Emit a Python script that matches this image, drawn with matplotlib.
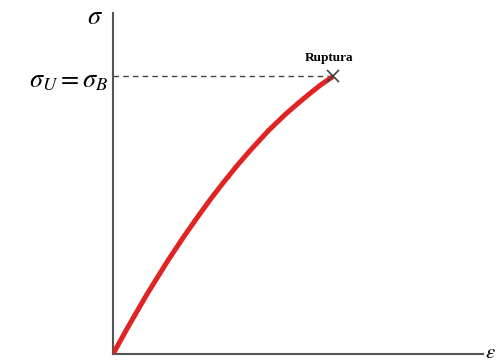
import matplotlib
matplotlib.use('Agg')
import matplotlib.pyplot as plt

plt.rcParams['mathtext.fontset'] = 'stix'

# Curva tensión-deformación (valores normalizados)
deformacion = [0.0, 0.04, 0.09, 0.146, 0.19, 0.23, 0.265, 0.297, 0.335, 0.37,
               0.42, 0.465, 0.50, 0.532, 0.56, 0.581, 0.595]
tension = [0.0, 0.078, 0.172, 0.270, 0.342, 0.404, 0.456, 0.501, 0.552, 0.596,
           0.655, 0.702, 0.735, 0.764, 0.788, 0.804, 0.814]

# Punto de ruptura
e_rup = deformacion[-1]
s_rup = tension[-1]

fig = plt.figure(figsize=(4.96, 3.63), dpi=100)
ax = fig.add_axes([113 / 496, 9 / 363, 370 / 496, 341 / 363])
ax.set_xlim(0, 1)
ax.set_ylim(0, 1)

ax.plot(deformacion, tension, color='#e02424', lw=3.6,
        solid_capstyle='butt', solid_joinstyle='round', zorder=3)

ax.plot([0, e_rup], [s_rup, s_rup], ls=(0, (4, 3)), color='#444444', lw=1.0)
ax.plot(e_rup, s_rup, marker='x', color='#444444', ms=8, mew=1.2, zorder=4)
ax.text(e_rup - 0.01, s_rup + 0.035, 'Ruptura', ha='center', va='bottom',
        fontsize=9.5, fontweight='bold', family='Liberation Serif')

for lado in ['top', 'right']:
    ax.spines[lado].set_visible(False)
for lado in ['left', 'bottom']:
    ax.spines[lado].set_color('#555555')
    ax.spines[lado].set_linewidth(1.5)
ax.set_xticks([])
ax.set_yticks([])

fig.text(95 / 496, 1 - 17 / 363, r'$\sigma$', ha='center', va='center', fontsize=19)
fig.text(108 / 496, 1 - 80 / 363, r'$\sigma_U = \sigma_B$', ha='right', va='center', fontsize=19)
fig.text(485 / 496, 1 - 352 / 363, r'$\epsilon$', ha='left', va='center', fontsize=15)

fig.savefig('out.png', dpi=100)
